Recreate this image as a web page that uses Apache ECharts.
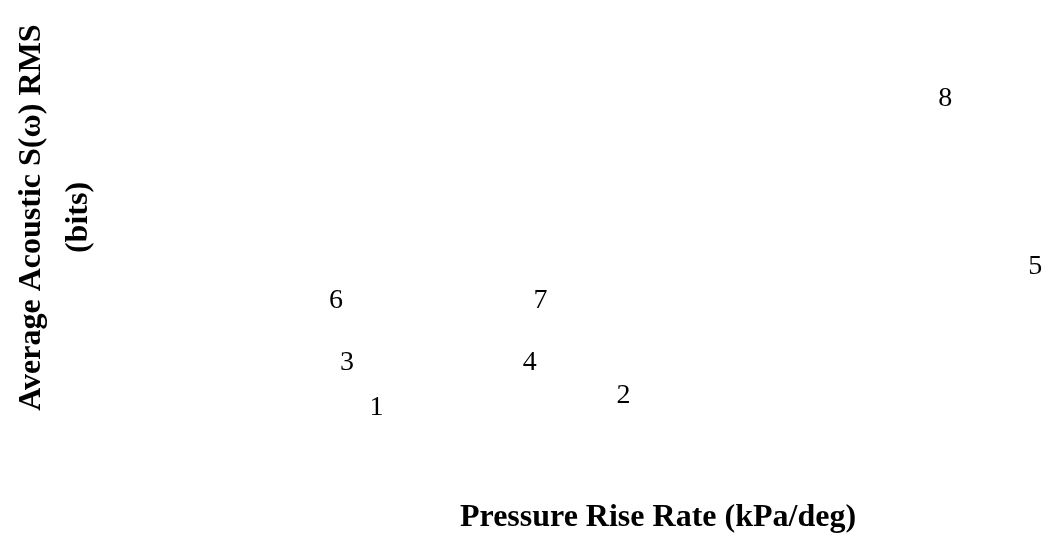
<!DOCTYPE html>
<html>
<head>
<meta charset="utf-8">
<script src="https://cdn.jsdelivr.net/npm/echarts@6/dist/echarts.min.js"></script>
<style>
html,body{margin:0;padding:0;background:#fff;}
#chart{width:1053px;height:539px;}
</style>
</head>
<body>
<div id="chart"></div>
<script>
// Point identifiers (labels drawn at each point)
const pointLabels = ['1', '2', '3', '4', '5', '6', '7', '8'];
// Pressure rise rate (kPa/deg)
const pressureRiseRate = [57.5, 182.5, 42.5, 135, 391, 37, 140.5, 345.5];
// Average acoustic S(ω) RMS (bits)
const acousticRMS = [3.0, 4.3, 8.0, 8.0, 18.6, 14.8, 14.8, 37.1];

const xTitle = 'Pressure Rise Rate (kPa/deg)';
const yTitle = 'Average Acoustic S(ω) RMS\n(bits)';

const data = pointLabels.map((n, i) => ({ name: n, value: [pressureRiseRate[i], acousticRMS[i]] }));

const chart = echarts.init(document.getElementById('chart'), null, { renderer: 'canvas' });
const hidden = {
  axisLine: { show: false },
  axisTick: { show: false },
  axisLabel: { show: false },
  splitLine: { show: false }
};
chart.setOption({
  animation: false,
  backgroundColor: '#ffffff',
  grid: { left: 253, right: 0, top: -40, bottom: 99, containLabel: false },
  xAxis: Object.assign({
    type: 'value', min: 0, max: 400,
    name: xTitle, nameLocation: 'middle', nameGap: 67,
    nameTextStyle: { fontFamily: 'Liberation Serif', fontWeight: 'bold', fontSize: 32, color: '#000' }
  }, hidden),
  yAxis: Object.assign({
    type: 'value', min: 0, max: 48,
    name: yTitle, nameLocation: 'middle', nameGap: 161,
    nameTextStyle: { fontFamily: 'Liberation Serif', fontWeight: 'bold', fontSize: 32, color: '#000', lineHeight: 47, align: 'center' }
  }, hidden),
  series: [{
    type: 'scatter',
    clip: false,
    symbolSize: 1,
    itemStyle: { color: 'rgba(255,255,255,0)' },
    data: data,
    label: {
      show: true,
      position: 'inside',
      formatter: p => p.name,
      fontFamily: 'Liberation Serif',
      fontWeight: 'normal',
      fontSize: 28,
      color: '#000000',
      opacity: 1,
      textBorderWidth: 0
    }
  }]
});
</script>
</body>
</html>
